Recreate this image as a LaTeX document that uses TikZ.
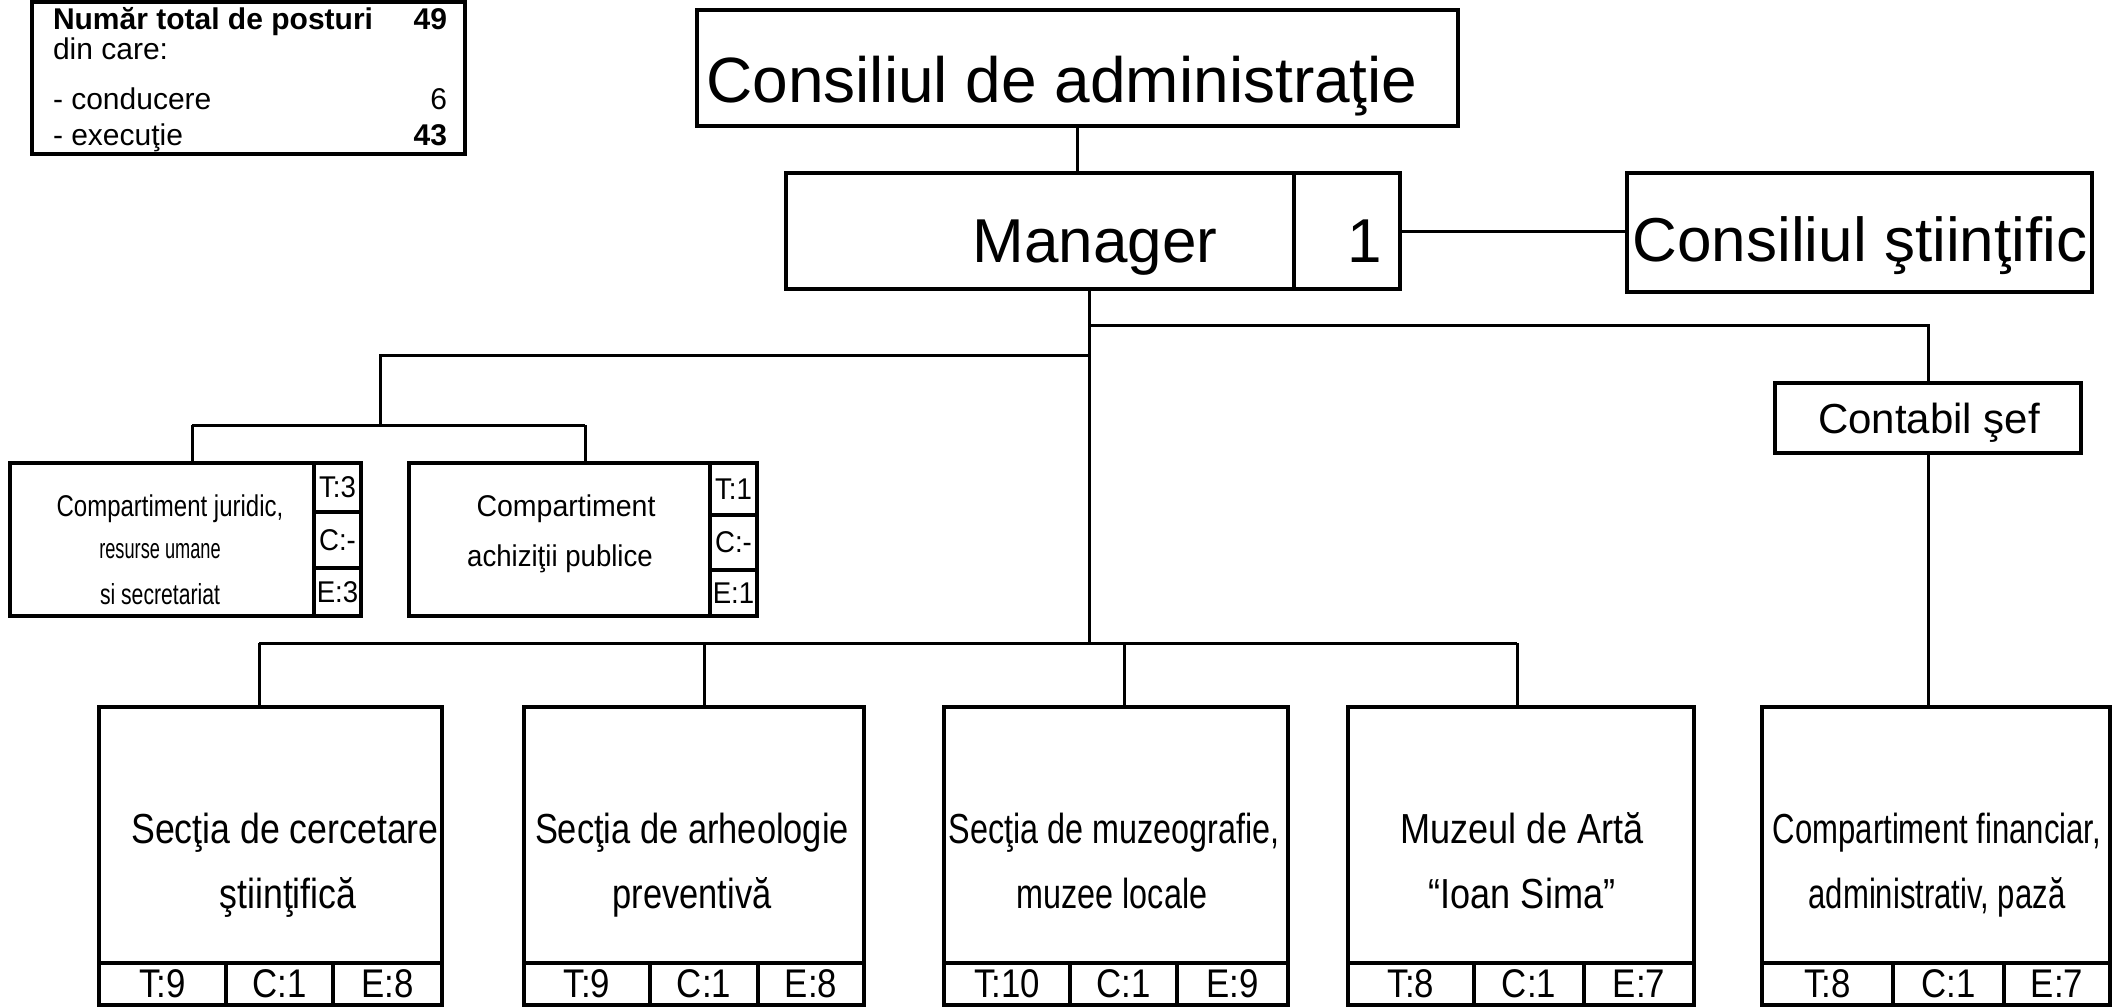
\documentclass[tikz,border=0pt]{standalone}
\usepackage{fontspec}
\setmainfont{Liberation Sans}
\newcommand\myfs[2]{\fontsize{#1}{#2}\selectfont}
\newcommand\nar[1]{\addfontfeatures{FakeStretch=#1}}
\tikzset{
  box/.style={draw, line width=3.5pt, inner sep=0pt, outer sep=0pt},
  conn/.style={line width=3pt},
  txt/.style={inner sep=0pt, outer sep=0pt},
  cell/.style={box, font=\myfs{40}{42}\nar{0.87}},
  scell/.style={box, font=\myfs{30}{32}\nar{0.92}},
  btext/.style={txt, anchor=base},
}
% name, x1, d1, d2, x2, T, C, E
\newcommand\bbox[8]{%
  \node[box, minimum width={(#5-#2)*1pt}, minimum height=256pt] (#1) at ({(#2+#5)/2},835) {};
  \node[cell, minimum width={(#3-#2)*1pt}, minimum height=42pt] (#1t) at ({(#2+#3)/2},984) {#6};
  \node[cell, minimum width={(#4-#3)*1pt}, minimum height=42pt] (#1c) at ({(#3+#4)/2},984) {#7};
  \node[cell, minimum width={(#5-#4)*1pt}, minimum height=42pt] (#1e) at ({(#4+#5)/2},984) {#8};
}
\begin{document}
\begin{tikzpicture}[x=1pt,y=-1pt]
\fill[white] (0,0) rectangle (2112,1007);
\useasboundingbox (0,0) rectangle (2112,1007);

% summary box
\node[box, minimum width=433pt, minimum height=152pt] (sum) at (248.5,78) {};
\node[txt, anchor=base west, font=\bfseries\myfs{30}{36}] (s1) at (53,29) {Număr total de posturi};
\node[txt, anchor=base east, font=\bfseries\myfs{30}{36}] (s1n) at (447,29) {49};
\node[txt, anchor=base west, font=\myfs{30}{36}] (s2) at (53,59) {din care:};
\node[txt, anchor=base west, font=\myfs{30}{36}] (s3) at (53,109) {- conducere};
\node[txt, anchor=base east, font=\myfs{30}{36}] (s3n) at (447,109) {6};
\node[txt, anchor=base west, font=\myfs{30}{36}] (s4) at (53,145) {- execuţie};
\node[txt, anchor=base east, font=\bfseries\myfs{30}{36}] (s4n) at (447,145) {43};

% top
\node[box, minimum width=761pt, minimum height=116pt] (cda) at (1077.5,68) {};
\node[btext, font=\myfs{64}{70}] (cdat) at (1062,102) {Consiliul de administraţie};

\node[box, minimum width=508pt, minimum height=116pt] (mgr) at (1040,231) {};
\node[btext, font=\myfs{62}{70}] (mgrt) at (1095,262) {Manager};
\node[box, minimum width=106pt, minimum height=116pt] (one) at (1347,231) {};
\node[btext, font=\myfs{62}{70}] (onet) at (1365,262) {1};

\node[box, minimum width=465pt, minimum height=119pt] (cs) at (1859.5,232.5) {};
\node[btext, font=\myfs{62}{70}] (cst) at (1860,261) {Consiliul ştiinţific};

\node[box, minimum width=306pt, minimum height=70pt] (cf) at (1928,418) {};
\node[btext, font=\myfs{42}{48}] (cft) at (1929,433) {Contabil şef};

% left compartments
\node[box, minimum width=304pt, minimum height=153pt] (jur) at (162,539.5) {};
\node[scell, minimum width=47pt, minimum height=49pt] (jurT) at (337.5,487.5) {T:3};
\node[scell, minimum width=47pt, minimum height=56pt] (jurC) at (337.5,540) {C:-};
\node[scell, minimum width=47pt, minimum height=48pt] (jurE) at (337.5,592) {E:3};
\node[btext, font=\myfs{30}{34}\nar{0.80}] (jur1) at (170,516) {Compartiment juridic,};
\node[btext, font=\myfs{28}{34}\nar{0.65}] (jur2) at (160,558) {resurse umane};
\node[btext, font=\myfs{29}{34}\nar{0.73}] (jur3) at (160,604) {si secretariat};

\node[box, minimum width=301pt, minimum height=153pt] (ach) at (559.5,539.5) {};
\node[scell, minimum width=47pt, minimum height=52pt] (achT) at (733.5,489) {T:1};
\node[scell, minimum width=47pt, minimum height=55pt] (achC) at (733.5,542.5) {C:-};
\node[scell, minimum width=47pt, minimum height=46pt] (achE) at (733.5,593) {E:1};
\node[btext, font=\myfs{30}{34}\nar{0.95}] (ach1) at (566,516) {Compartiment};
\node[btext, font=\myfs{30}{34}\nar{0.92}] (ach2) at (560,566) {achiziţii publice};

% bottom boxes
\bbox{b1}{99}{226}{333}{442}{T:9}{C:1}{E:8}
\bbox{b2}{524}{650}{758}{864}{T:9}{C:1}{E:8}
\bbox{b3}{944}{1070}{1177}{1288}{T:10}{C:1}{E:9}
\bbox{b4}{1348}{1474}{1584}{1694}{T:8}{C:1}{E:7}
\bbox{b5}{1762}{1893}{2004}{2110}{T:8}{C:1}{E:7}

\node[btext, font=\myfs{42}{48}\nar{0.85}] (b1a) at (285,843) {Secţia de cercetare};
\node[btext, font=\myfs{42}{48}\nar{0.85}] (b1b) at (288,908) {ştiinţifică};
\node[btext, font=\myfs{42}{48}\nar{0.82}] (b2a) at (692,843) {Secţia de arheologie};
\node[btext, font=\myfs{42}{48}\nar{0.82}] (b2b) at (692,908) {preventivă};
\node[btext, font=\myfs{42}{48}\nar{0.77}] (b3a) at (1114,843) {Secţia de muzeografie,};
\node[btext, font=\myfs{42}{48}\nar{0.77}] (b3b) at (1112,908) {muzee locale};
\node[btext, font=\myfs{42}{48}\nar{0.86}] (b4a) at (1522,843) {Muzeul de Artă};
\node[btext, font=\myfs{42}{48}\nar{0.86}] (b4b) at (1522,908) {“Ioan Sima”};
\node[btext, font=\myfs{42}{48}\nar{0.74}] (b5a) at (1937,843) {Compartiment financiar,};
\node[btext, font=\myfs{42}{48}\nar{0.74}] (b5b) at (1937,908) {administrativ, pază};

% connectors
\coordinate (j0) at (1089,325);
\coordinate (j1) at (1089,355);
\coordinate (j2) at (1089,643);
\coordinate (l0) at (380,355);
\coordinate (l1) at (380,425);
\coordinate (l2) at (192,425);
\coordinate (l3) at (585,425);
\coordinate (m1) at (259,643);
\coordinate (m2) at (704,643);
\coordinate (m3) at (1124,643);
\coordinate (m4) at (1517,643);

\draw[conn] (cda.south) -- (cda.south |- mgr.north);
\draw[conn] (one.east) -- (one.east -| cs.west);
\draw[conn] (j0 |- mgr.south) -- (j2);
\draw[conn] (j0) -- (j0 -| cf.north) -- (cf.north);
\draw[conn] (cf.south) -- (cf.south |- b5.north);
\draw[conn] (j1) -- (l0) -- (l1);
\draw[conn] (l2) -- (l3);
\draw[conn] (l2) -- (l2 |- jur.north);
\draw[conn] (l3) -- (l3 |- ach.north);
\draw[conn] (m1) -- (m4);
\draw[conn] (m1) -- (m1 |- b1.north);
\draw[conn] (m2) -- (m2 |- b2.north);
\draw[conn] (m3) -- (m3 |- b3.north);
\draw[conn] (m4) -- (m4 |- b4.north);
\end{tikzpicture}
\end{document}
